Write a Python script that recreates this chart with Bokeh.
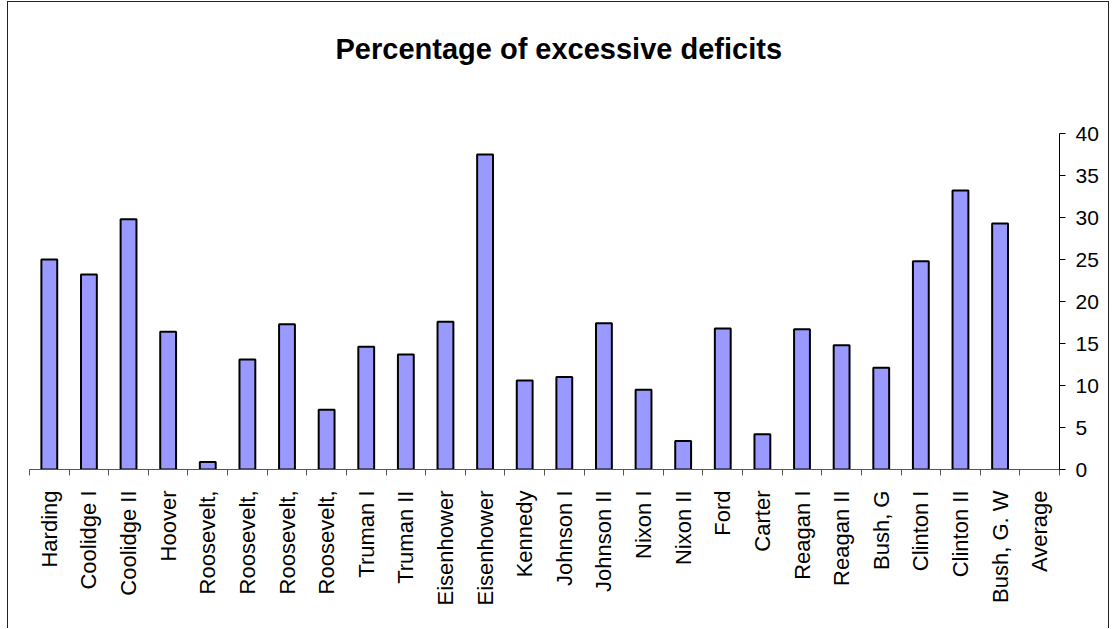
import math
from bokeh.plotting import figure
from bokeh.models import Range1d, LinearAxis, FixedTicker, Title, ColumnDataSource
from bokeh.embed import file_html
from bokeh.resources import INLINE

categories = ["Harding", "Coolidge I", "Coolidge II", "Hoover",
              "Roosevelt,", "Roosevelt,", "Roosevelt,", "Roosevelt,",
              "Truman I", "Truman II", "Eisenhower", "Eisenhower",
              "Kennedy", "Johnson I", "Johnson II", "Nixon I", "Nixon II",
              "Ford", "Carter", "Reagan I", "Reagan II", "Bush, G",
              "Clinton I", "Clinton II", "Bush, G. W", "Average"]
values = [25.0, 23.2, 29.8, 16.4,
          0.9, 13.1, 17.3, 7.1,
          14.6, 13.7, 17.6, 37.5,
          10.6, 11.0, 17.4, 9.5, 3.4,
          16.8, 4.2, 16.7, 14.8, 12.1,
          24.8, 33.2, 29.3, float("nan")]
y_ticks = [0, 5, 10, 15, 20, 25, 30, 35, 40]
title_text = "Percentage of excessive deficits"

n = len(categories)
centers = [i + 0.5 for i in range(n)]
bounds = [float(i) for i in range(n + 1)]

p = figure(width=1100, height=626, output_backend="svg", toolbar_location=None,
           x_range=Range1d(0, n), y_range=Range1d(0, 40),
           min_border_left=21, min_border_right=51, min_border_top=131,
           min_border_bottom=160, x_axis_location=None, y_axis_location=None)
p.styles = {"margin-left": "7px", "margin-top": "1px",
            "border-left": "1px solid #222222", "border-top": "1px solid #222222",
            "border-right": "1px solid #222222", "box-sizing": "content-box"}
p.outline_line_color = None
p.xgrid.visible = False
p.ygrid.visible = False
p.background_fill_color = "white"
p.border_fill_color = "white"

src = ColumnDataSource(dict(x=centers, top=values))
p.vbar(x="x", top="top", width=0.4, bottom=0, source=src,
       fill_color="#9999FF", line_color="black", line_width=2)

FONT = "Liberation Sans"

xaxis = LinearAxis(ticker=FixedTicker(ticks=centers, minor_ticks=bounds))
xaxis.major_label_overrides = {c: name for c, name in zip(centers, categories)}
xaxis.major_label_orientation = math.pi / 2
xaxis.major_tick_out = 0
xaxis.major_tick_in = 0
xaxis.minor_tick_out = 6
xaxis.minor_tick_in = 0
xaxis.minor_tick_line_color = "#555555"
xaxis.axis_line_color = "#555555"
xaxis.major_label_standoff = 15
xaxis.major_label_text_font = FONT
xaxis.major_label_text_font_size = "22px"
xaxis.major_label_text_color = "black"
p.add_layout(xaxis, "below")

yaxis = LinearAxis(ticker=FixedTicker(ticks=y_ticks, minor_ticks=[]))
yaxis.major_tick_out = 6
yaxis.major_tick_in = 0
yaxis.minor_tick_out = 0
yaxis.axis_line_color = "black"
yaxis.major_tick_line_color = "black"
yaxis.major_label_standoff = 10
yaxis.major_label_text_font = FONT
yaxis.major_label_text_font_size = "21px"
yaxis.major_label_text_color = "black"
p.add_layout(yaxis, "right")

spacer = Title(text=" ", text_font=FONT, text_font_size="2px", standoff=65)
p.add_layout(spacer, "above")
title = Title(text=title_text, align="left", offset=306, standoff=0,
              text_font=FONT, text_font_size="29px", text_font_style="bold",
              text_color="black")
p.add_layout(title, "above")

open("out.html", "w").write(file_html(p, INLINE))
